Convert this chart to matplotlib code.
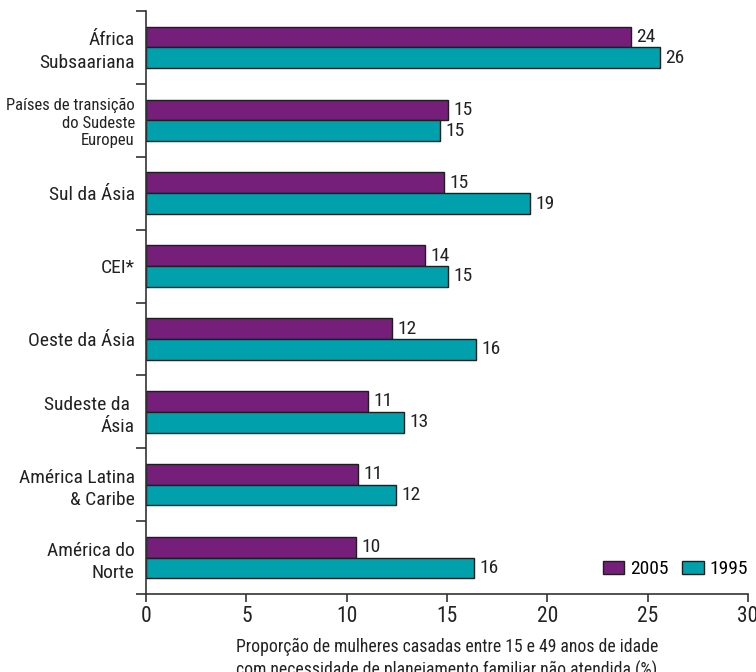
import matplotlib
matplotlib.use("Agg")
import matplotlib.pyplot as plt
from matplotlib.patches import Patch

plt.rcParams['font.family'] = ['Roboto Condensed', 'Archivo Narrow', 'PT Sans Narrow',
                               'Liberation Sans Narrow', 'Liberation Sans', 'DejaVu Sans']

# Regions, top to bottom
regions = [
    "África\nSubsaariana",
    "Países de transição\ndo Sudeste\nEuropeu",
    "Sul da Ásia",
    "CEI*",
    "Oeste da Ásia",
    "Sudeste da \nÁsia",
    "América Latina\n& Caribe",
    "América do\nNorte",
]
values_2005 = [24.15, 15.03, 14.83, 13.88, 12.24, 11.08, 10.58, 10.45]
values_1995 = [25.6, 14.67, 19.12, 15.03, 16.44, 12.84, 12.44, 16.36]
years = ["2005", "1995"]
xticks = [0, 5, 10, 15, 20, 25, 30]

purple = "#761f7a"
teal = "#00a0ad"
edge = "#1e1e1e"

fig = plt.figure(figsize=(7.56, 6.72), dpi=100)
ax = fig.add_axes([0.1931, 0.1161, 0.7963, 0.8675])

n = len(regions)
centers = [n - i - 0.5 for i in range(n)]
h = 0.285
off = 0.143

b1 = ax.barh([c + off for c in centers], values_2005, height=h, color=purple,
             edgecolor=edge, linewidth=1.0)
b2 = ax.barh([c - off for c in centers], values_1995, height=h, color=teal,
             edgecolor=edge, linewidth=1.0)

# Value labels
for bars, vals in ((b1, values_2005), (b2, values_1995)):
    for bar, v in zip(bars, vals):
        ax.annotate(f"{v:.0f}", (v, bar.get_y() + bar.get_height() / 2),
                    xytext=(4, 0), textcoords="offset points",
                    ha="left", va="center", fontsize=14, color="#222222")

ax.set_xlim(0, 30)
ax.set_ylim(0, n)
ax.set_xticks(xticks)
ax.set_xticklabels([str(t) for t in xticks], fontsize=15.5, color="#222222")

# Boundary ticks as major, labels on minor ticks
ax.set_yticks(range(n + 1))
ax.set_yticklabels([])
ax.set_yticks(centers, minor=True)
ax.set_yticklabels(regions, minor=True, fontsize=14, color="#222222")
for lbl, r in zip(ax.get_yticklabels(minor=True), regions):
    lbl.set_multialignment("right")
    lbl.set_linespacing(1.3)
    if r.startswith("Países"):
        lbl.set_fontsize(12)
        lbl.set_linespacing(1.2)

ax.tick_params(axis="y", which="major", length=7, width=1.2, color="#333333", direction="out")
ax.tick_params(axis="y", which="minor", length=0, pad=8)
ax.tick_params(axis="x", which="major", length=5.5, width=1.2, color="#333333", pad=3)

for s in ("top", "right"):
    ax.spines[s].set_visible(False)
for s in ("left", "bottom"):
    ax.spines[s].set_linewidth(1.2)
    ax.spines[s].set_color("#333333")

ax.set_xlabel("Proporção de mulheres casadas entre 15 e 49 anos de idade\n"
              "com necessidade de planejamento familiar não atendida (%)",
              fontsize=12.7, color="#222222", labelpad=8, linespacing=1.35)

handles = [Patch(facecolor=purple, edgecolor=edge, linewidth=1.0),
           Patch(facecolor=teal, edgecolor=edge, linewidth=1.0)]
ax.legend(handles, years, loc="center right", bbox_to_anchor=(1.0, 0.043),
          ncol=2, frameon=False, fontsize=14, handlelength=1.1,
          handleheight=0.65, handletextpad=0.3, columnspacing=0.7,
          borderpad=0, borderaxespad=0)

fig.savefig("out.png", dpi=100)
